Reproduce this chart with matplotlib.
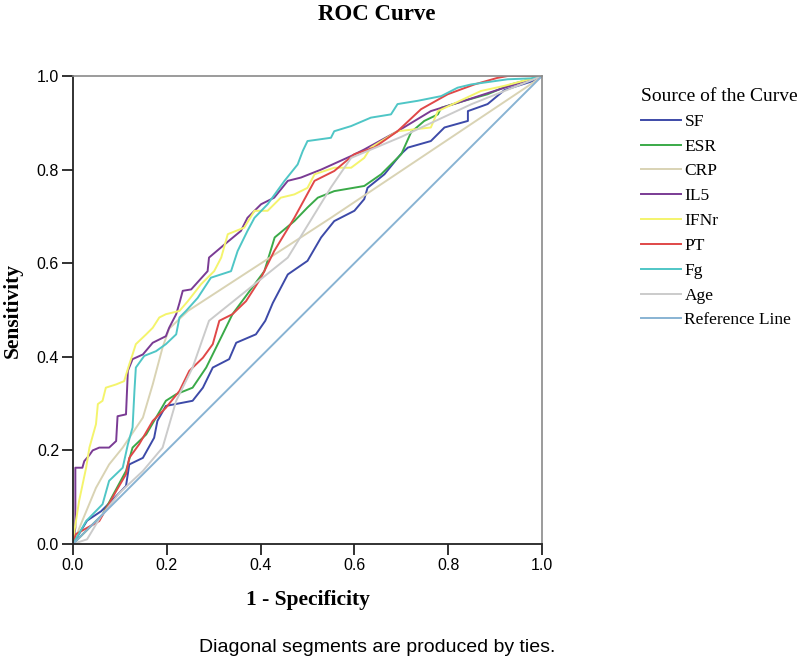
import numpy as np
import matplotlib
matplotlib.use("Agg")
import matplotlib.pyplot as plt

# ---------------------------------------------
# ROC curves (1 - specificity, sensitivity)
sf_x = [0.0, 0.03, 0.06, 0.09, 0.113, 0.12, 0.149, 0.173, 0.18, 0.198, 0.255, 0.277, 0.298,
        0.333, 0.348, 0.39, 0.41, 0.426, 0.458, 0.5, 0.529, 0.557, 0.6, 0.621, 0.628,
        0.664, 0.699, 0.714, 0.763, 0.792, 0.842, 0.842, 0.884, 0.92, 0.983, 1.0]
sf_y = [0.0, 0.05, 0.07, 0.1, 0.124, 0.17, 0.184, 0.227, 0.263, 0.295, 0.306, 0.334, 0.377,
        0.395, 0.43, 0.448, 0.477, 0.515, 0.576, 0.605, 0.655, 0.69, 0.712, 0.737, 0.761,
        0.79, 0.833, 0.847, 0.861, 0.89, 0.904, 0.925, 0.94, 0.97, 0.99, 1.0]

esr_x = [0.0, 0.063, 0.113, 0.127, 0.156, 0.177, 0.198, 0.22, 0.255, 0.284, 0.319, 0.34,
         0.408, 0.43, 0.472, 0.5, 0.522, 0.557, 0.621, 0.657, 0.7, 0.721, 0.749, 0.778,
         0.785, 0.834, 0.884, 0.934, 1.0]
esr_y = [0.0, 0.063, 0.156, 0.206, 0.234, 0.27, 0.306, 0.32, 0.334, 0.377, 0.448, 0.491,
         0.583, 0.655, 0.69, 0.719, 0.74, 0.754, 0.765, 0.79, 0.833, 0.88, 0.904, 0.918,
         0.932, 0.947, 0.961, 0.982, 1.0]

crp_x = [0.0, 0.02, 0.049, 0.077, 0.106, 0.149, 0.17, 0.191, 0.205, 0.245, 0.55, 0.977, 1.0]
crp_y = [0.0, 0.05, 0.12, 0.17, 0.206, 0.27, 0.341, 0.42, 0.46, 0.498, 0.697, 0.983, 1.0]

il5_x = [0.0, 0.005, 0.005, 0.005, 0.02, 0.024, 0.035, 0.042, 0.056, 0.077, 0.092, 0.095,
         0.113, 0.117, 0.127, 0.149, 0.17, 0.198, 0.205, 0.22, 0.227, 0.234, 0.252, 0.287,
         0.29, 0.323, 0.358, 0.372, 0.401, 0.429, 0.458, 0.486, 0.529, 0.593, 0.621, 0.692,
         0.763, 0.834, 0.92, 1.0]
il5_y = [0.0, 0.035, 0.128, 0.163, 0.163, 0.177, 0.19, 0.2, 0.206, 0.206, 0.22, 0.273,
         0.277, 0.37, 0.395, 0.405, 0.43, 0.444, 0.462, 0.491, 0.515, 0.541, 0.544, 0.583,
         0.612, 0.64, 0.669, 0.697, 0.726, 0.74, 0.776, 0.783, 0.8, 0.829, 0.843, 0.882,
         0.925, 0.947, 0.975, 1.0]

ifn_x = [0.0, 0.003, 0.013, 0.028, 0.035, 0.049, 0.053, 0.063, 0.07, 0.092, 0.109, 0.12,
         0.127, 0.134, 0.156, 0.17, 0.184, 0.198, 0.227, 0.245, 0.273, 0.301, 0.316, 0.33,
         0.365, 0.387, 0.415, 0.443, 0.472, 0.5, 0.515, 0.557, 0.593, 0.621, 0.635, 0.692,
         0.763, 0.778, 0.87, 0.92, 1.0]
ifn_y = [0.0, 0.028, 0.092, 0.163, 0.206, 0.256, 0.299, 0.306, 0.334, 0.341, 0.348, 0.384,
         0.405, 0.427, 0.448, 0.462, 0.484, 0.491, 0.498, 0.519, 0.555, 0.583, 0.612, 0.662,
         0.676, 0.712, 0.712, 0.74, 0.747, 0.761, 0.79, 0.804, 0.804, 0.825, 0.847, 0.882,
         0.89, 0.925, 0.968, 0.979, 1.0]

pt_x = [0.0, 0.006, 0.056, 0.092, 0.113, 0.12, 0.141, 0.17, 0.198, 0.227, 0.248, 0.277,
        0.298, 0.312, 0.34, 0.369, 0.401, 0.429, 0.472, 0.515, 0.557, 0.6, 0.642, 0.692,
        0.742, 0.799, 0.856, 0.905, 0.927, 1.0]
pt_y = [0.0, 0.021, 0.049, 0.113, 0.149, 0.184, 0.213, 0.263, 0.291, 0.327, 0.37, 0.398,
        0.427, 0.477, 0.491, 0.519, 0.569, 0.626, 0.697, 0.776, 0.797, 0.833, 0.847, 0.882,
        0.929, 0.961, 0.982, 0.996, 1.0, 1.0]

fg_x = [0.0, 0.028, 0.063, 0.077, 0.106, 0.117, 0.127, 0.131, 0.134, 0.152, 0.177, 0.198,
        0.22, 0.227, 0.241, 0.266, 0.294, 0.337, 0.351, 0.372, 0.387, 0.415, 0.451, 0.479,
        0.49, 0.5, 0.55, 0.557, 0.593, 0.635, 0.678, 0.692, 0.735, 0.785, 0.82, 0.849,
        0.927, 0.977, 1.0]
fg_y = [0.0, 0.049, 0.085, 0.135, 0.163, 0.213, 0.249, 0.327, 0.377, 0.402, 0.412, 0.427,
        0.448, 0.484, 0.498, 0.526, 0.569, 0.583, 0.626, 0.669, 0.697, 0.726, 0.776, 0.811,
        0.84, 0.861, 0.868, 0.882, 0.893, 0.911, 0.918, 0.94, 0.947, 0.957, 0.975, 0.982,
        0.993, 0.995, 1.0]

age_x = [0.0, 0.03, 0.06, 0.1, 0.149, 0.191, 0.22, 0.255, 0.29, 0.316, 0.458, 0.55, 0.593,
         0.7, 0.85, 1.0]
age_y = [0.0, 0.01, 0.06, 0.11, 0.156, 0.206, 0.306, 0.377, 0.477, 0.498, 0.612, 0.762,
         0.825, 0.87, 0.94, 1.0]

ref_x = [0.0, 1.0]
ref_y = [0.0, 1.0]

names = ["SF", "ESR", "CRP", "IL5", "IFNr", "PT", "Fg", "Age", "Reference Line"]
curves = [(sf_x, sf_y), (esr_x, esr_y), (crp_x, crp_y), (il5_x, il5_y), (ifn_x, ifn_y),
          (pt_x, pt_y), (fg_x, fg_y), (age_x, age_y), (ref_x, ref_y)]
colors = ["#3d4aa8", "#3aaa48", "#d9d3b4", "#7a3b94", "#f4f46c",
          "#e04848", "#4fc6c6", "#cbcbcb", "#88b3d3"]

#---------------------------------------------
serif = ["Liberation Serif", "DejaVu Serif"]
sans = ["Liberation Sans", "DejaVu Sans"]
plt.rc('font', family=serif)

fig = plt.figure(1, figsize=(8.10, 6.64), dpi=100)
ax = fig.add_axes([73/810, 1 - 544/664, (542 - 73)/810, (544 - 76)/664])

for (x, y), name, col in zip(curves, names, colors):
    ax.plot(x, y, color=col, lw=1.4, label=name)

ax.set_xlim(0, 1)
ax.set_ylim(0, 1)
ticks = [0.0, 0.2, 0.4, 0.6, 0.8, 1.0]
ax.set_xticks(ticks)
ax.set_yticks(ticks)
ax.set_xticklabels(["%.1f" % t for t in ticks], family=sans)
ax.set_yticklabels(["%.1f" % t for t in ticks], family=sans)
ax.tick_params(direction='out', length=8, width=1.3, labelsize=11.5, pad=2, color='#222222')

for s in ['left', 'bottom']:
    ax.spines[s].set_linewidth(1.3)
    ax.spines[s].set_color('#222222')
for s in ['top', 'right']:
    ax.spines[s].set_linewidth(1.2)
    ax.spines[s].set_color('#8a8a8a')

ax.set_xlabel("1 - Specificity", fontsize=15.5, fontweight='bold', labelpad=12)
ax.set_ylabel("Sensitivity", fontsize=15.5, fontweight='bold', labelpad=10)

fig.text(377/810, 1 - 14/664, "ROC Curve", ha='center', va='center',
         fontsize=16.5, fontweight='bold')

fig.text(377/810, 1 - 648/664, "Diagonal segments are produced by ties.",
         ha='center', va='center', fontsize=14, family=sans)

leg = fig.legend(loc='upper left', bbox_to_anchor=(641/810, 1 - 88/664),
                 frameon=False, title="Source of the Curve", fontsize=12.5,
                 title_fontsize=14, handlelength=2.3, handletextpad=0.2,
                 labelspacing=0.5, borderaxespad=0, borderpad=0)
leg._legend_box.align = "left"

plt.savefig("out.png", dpi=100)
